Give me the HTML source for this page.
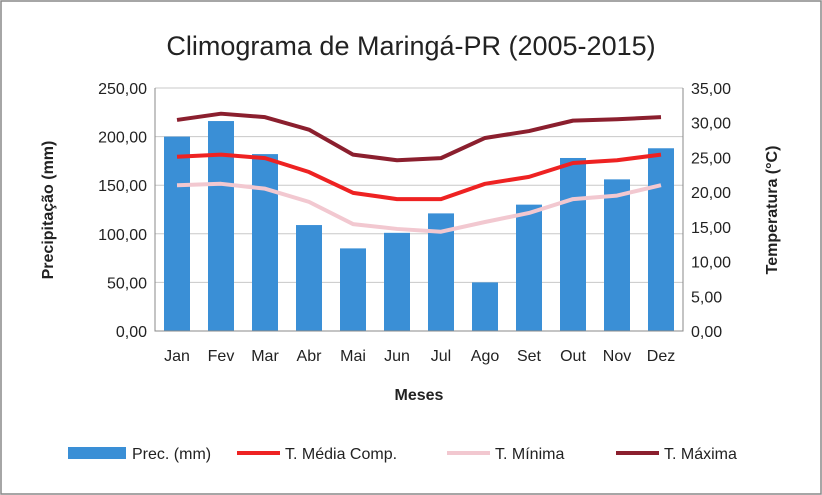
<!DOCTYPE html>
<html><head><meta charset="utf-8"><style>
html,body{margin:0;padding:0;background:#fff;}
svg{display:block;font-family:"Liberation Sans",sans-serif;}
</style></head><body>
<svg id="c" width="822" height="495" viewBox="0 0 822 495">
<rect x="1" y="1" width="820" height="493" fill="#fff" stroke="#888" stroke-width="1.5"/>
<text x="411" y="55" text-anchor="middle" font-size="27" fill="#222">Climograma de Maringá-PR (2005-2015)</text>
<g id="grid"></g><g id="bars"></g><g id="lines"></g><g id="axes"></g>
<text transform="translate(53,210) rotate(-90)" text-anchor="middle" font-size="16" font-weight="bold" fill="#222">Precipitação (mm)</text>
<text transform="translate(777,210) rotate(-90)" text-anchor="middle" font-size="16" font-weight="bold" fill="#222">Temperatura (°C)</text>
<text x="419" y="400" text-anchor="middle" font-size="16" font-weight="bold" fill="#222">Meses</text>
<g font-size="16" fill="#222">
<rect x="68" y="447" width="58" height="12" fill="#3a8fd6"/>
<text x="132" y="459">Prec. (mm)</text>
<line x1="237" y1="453" x2="280" y2="453" stroke="#ee2222" stroke-width="4"/>
<text x="285" y="459">T. Média Comp.</text>
<line x1="447" y1="453" x2="490" y2="453" stroke="#f2c8d0" stroke-width="4"/>
<text x="495" y="459">T. Mínima</text>
<line x1="616" y1="453" x2="659" y2="453" stroke="#8b1f2e" stroke-width="4"/>
<text x="664" y="459">T. Máxima</text>
</g>
</svg>
<script>
const months=["Jan","Fev","Mar","Abr","Mai","Jun","Jul","Ago","Set","Out","Nov","Dez"];
const prec=[200,216,182,109,85,101,121,50,130,178,156,188];
const tMedia=[25.1,25.4,24.9,22.9,19.9,19.0,19.0,21.2,22.2,24.2,24.6,25.4];
const tMin=[21.0,21.2,20.5,18.6,15.4,14.7,14.3,15.7,17.0,19.0,19.5,21.0];
const tMax=[30.4,31.3,30.8,29.0,25.4,24.6,24.9,27.8,28.8,30.3,30.5,30.8];
const leftTicks=["0,00","50,00","100,00","150,00","200,00","250,00"];
const rightTicks=["0,00","5,00","10,00","15,00","20,00","25,00","30,00","35,00"];
const NS="http://www.w3.org/2000/svg";
const X0=155,X1=683,Y0=331,Y1=88;
const bw=(X1-X0)/months.length;
const xc=i=>X0+bw*(i+0.5);
const yL=v=>Y0-(v/250)*(Y0-Y1);
const yR=v=>Y0-(v/35)*(Y0-Y1);
function mk(t,a,p){const e=document.createElementNS(NS,t);for(const k in a)e.setAttribute(k,a[k]);document.getElementById(p).appendChild(e);return e;}
leftTicks.forEach((t,i)=>{const v=i*50;
const l=mk("line",{x1:X0,x2:X1,y1:yL(v),y2:yL(v),stroke:"#c8c8c8","stroke-width":1},"grid");


const tx=mk("text",{x:X0-8,y:yL(v)+6,"text-anchor":"end","font-size":"16",fill:"#222"},"axes");tx.textContent=t;

});
rightTicks.forEach((t,i)=>{const v=i*5;
const tx=mk("text",{x:X1+8,y:yR(v)+6,"font-size":"16",fill:"#222"},"axes");tx.textContent=t;

});
const ax=mk("path",{d:`M${X0},${Y1}V${Y0}H${X1}V${Y1}`,fill:"none",stroke:"#888","stroke-width":1},"axes");


months.forEach((m,i)=>{
const r=mk("rect",{x:xc(i)-13,y:yL(prec[i]),width:26,height:Y0-yL(prec[i]),fill:"#3a8fd6"},"bars");


const tx=mk("text",{x:xc(i),y:Y0+30,"text-anchor":"middle","font-size":"16",fill:"#222"},"axes");tx.textContent=m;

});
function line(data,color,name){
const d=data.map((v,i)=>(i?"L":"M")+xc(i)+","+yR(v)).join("");
const p=mk("path",{d:d,fill:"none",stroke:color,"stroke-width":4,"stroke-linejoin":"round"},"lines");

}
line(tMin,"#f2c8d0","line-t-minima");
line(tMax,"#8b1f2e","line-t-maxima");
line(tMedia,"#ee2222","line-t-media");
</script>
</body></html>
